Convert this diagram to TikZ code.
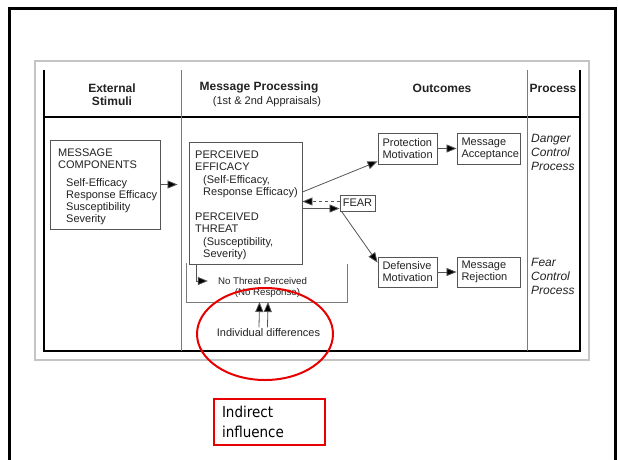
\documentclass[tikz,border=0pt]{standalone}
\usepackage{fontspec}
\setmainfont{Liberation Sans}
\newfontfamily\notefont{DejaVu Sans Condensed}
\usetikzlibrary{arrows.meta}
\definecolor{ink}{HTML}{222222}
\definecolor{rulegray}{HTML}{7A7A7A}
\definecolor{edgegray}{HTML}{555555}
\definecolor{framegray}{HTML}{C4C4C4}
\definecolor{markred}{HTML}{E80000}
\begin{document}
\begin{tikzpicture}[x=1pt,y=-1pt,
  every node/.style={text=ink, inner sep=0pt},
  hdr/.style={font=\fontsize{12}{14}\selectfont\bfseries, anchor=base, align=center},
  body/.style={font=\fontsize{11}{12}\selectfont},
  small/.style={font=\fontsize{9.7}{12}\selectfont},
  stagebox/.style={draw=edgegray, line width=0.9pt, align=left, body},
  outbox/.style={stagebox, minimum width=#1, text width=#1-9pt, inner xsep=4.5pt, minimum height=31pt},
  proc/.style={font=\fontsize{12}{14}\selectfont\itshape, anchor=base west, align=left},
  arr/.style={draw=edgegray, line width=0.8pt, -{Triangle[length=10pt,width=8pt,fill=black]}},
  heavy/.style={draw=black, line width=2.2pt},
  sep/.style={draw=rulegray, line width=1pt},
]
\useasboundingbox (0,0) rectangle (618,459);
\fill[white] (0,0) rectangle (618,459);

% slide border
\draw[black, line width=2.5pt] (9.5,470) -- (9.5,8.5) -- (615.5,8.5) -- (615.5,470);

% figure frame and table rules
\draw[framegray, line width=1.2pt] (35,61) rectangle (589,360);
\draw[heavy] (44,70) -- (44,351) -- (580,351) -- (580,70);
\draw[heavy] (44,117) -- (580,117);
\draw[sep] (181.5,70) -- (181.5,351);
\draw[sep] (527.5,70) -- (527.5,351);

% column headings
\node[hdr] (h1) at (112,92) {External};
\node[hdr] (h1b) at (112,105) {Stimuli};
\node[hdr] (h2) at (259,90) {Message Processing};
\node[body, anchor=base] (h2b) at (267,104) {(1st \& 2nd Appraisals)};
\node[hdr] (h3) at (442,92) {Outcomes};
\node[hdr] (h4) at (553,92) {Process};

% external stimuli (multi-line texts are placed by the baseline of their last line)
\node[stagebox, minimum width=110pt, minimum height=89pt] (msg) at (105,184.5) {};
\node[body, anchor=base west, align=left] (msgtxt) at (58,222)
  {MESSAGE\\COMPONENTS\\[6pt]\hspace*{8pt}Self-Efficacy\\\hspace*{8pt}Response Efficacy\\\hspace*{8pt}Susceptibility\\\hspace*{8pt}Severity};

% appraisals
\node[stagebox, minimum width=113pt, minimum height=122pt] (perc) at (245.5,203) {};
\node[body, anchor=base west, align=left, font=\fontsize{11}{12.5}\selectfont] (perctxt) at (195,257.5)
  {PERCEIVED\\EFFICACY\\\hspace*{8pt}(Self-Efficacy,\\\hspace*{8pt}Response Efficacy)\\[12pt]PERCEIVED\\THREAT\\\hspace*{8pt}(Susceptibility,\\\hspace*{8pt}Severity)};

% no threat branch
\draw[rulegray, line width=1pt] (186,263) -- (186,302) -- (347,302) -- (347,264);
\coordinate (brB) at (263,302);
\node[small] (nt) at (262.5,281) {No Threat Perceived};
\node[small] (nr) at (267.5,293) {(No Response)};
\draw[arr] ([xshift=8pt]perc.south west) |- ([xshift=-10pt]nt.west);

% individual differences
\node[body, inner sep=1.5pt] (ind) at (268.5,333) {Individual differences};
\draw[arr] ([xshift=-9.5pt]ind.north) -- ([xshift=-3.5pt]brB);
\draw[arr] ([xshift=-1pt]ind.north) -- ([xshift=5pt]brB);

% fear and outcomes
\node[stagebox, minimum width=35pt, minimum height=16pt, align=center] (fear) at (357.5,203) {FEAR};
\node[outbox=59pt] (pm) at (407.5,148.5) {Protection\\Motivation};
\node[outbox=63pt] (ma) at (488.5,148.5) {Message\\Acceptance};
\node[outbox=59pt, minimum height=30pt] (dm) at (407.5,272) {Defensive\\Motivation};
\node[outbox=63pt, minimum height=30pt] (mr) at (488.5,272) {Message\\Rejection};

\draw[arr, shorten >=11pt] (msg.east) -- (msg.east -| perc.west);
\draw[arr] ([yshift=11pt]perc.east) -- ([yshift=3pt]pm.south west);
\draw[arr, dashed] ([yshift=1.5pt]fear.west) -- ([yshift=1.5pt]fear.west -| perc.east);
\draw[arr] ([yshift=-5.5pt]fear.west -| perc.east) -- ([yshift=-5.5pt]fear.west);
\draw[arr] ([xshift=2pt]fear.south west) -- ([yshift=-6pt]dm.north west);
\draw[arr] (pm) -- (ma);
\draw[arr] (dm) -- (mr);

% process column
\node[proc] (dcp) at (531,170) {Danger\\Control\\Process};
\node[proc] (fcp) at (531,294) {Fear\\Control\\Process};

% annotation
\draw[markred, line width=2pt] (265,334) ellipse [x radius=68, y radius=46];
\node[draw=markred, line width=2pt, anchor=north west, align=left, text width=95pt,
      inner xsep=8pt, minimum height=46pt, text=black,
      font=\notefont\fontsize{15}{19.5}\selectfont] (note) at (213,398) {Indirect\\influence};
\end{tikzpicture}
\end{document}
